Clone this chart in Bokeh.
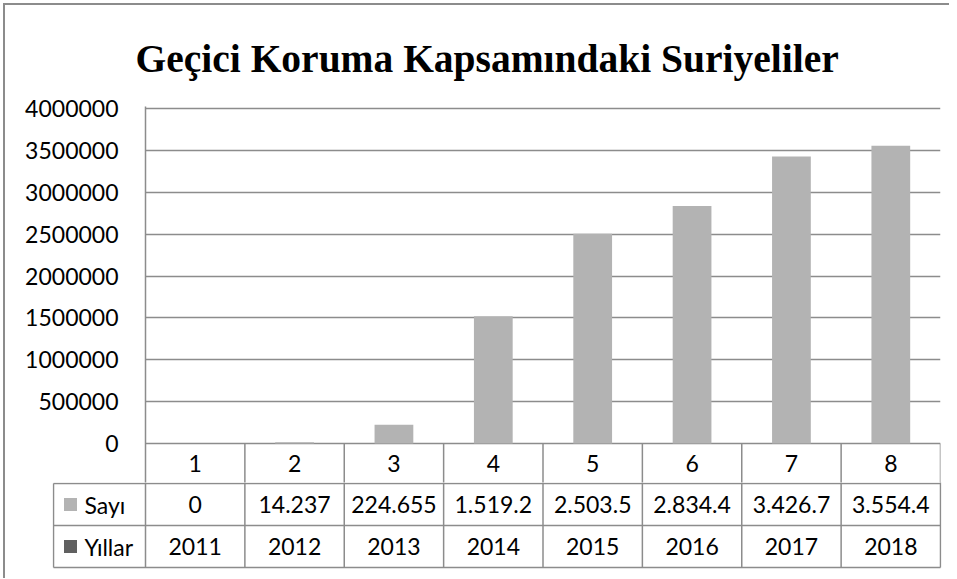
from bokeh.plotting import figure
from bokeh.layouts import column
from bokeh.models import Range1d, FixedTicker, BasicTickFormatter, ColumnDataSource
from bokeh.core.properties import value
from bokeh.embed import file_html
from bokeh.resources import INLINE

# ---------------- data ----------------
title_text = "Geçici Koruma Kapsamındaki Suriyeliler"
categories = ["1", "2", "3", "4", "5", "6", "7", "8"]
sayi_values = [0, 14237, 224655, 1519286, 2503549, 2834441, 3426786, 3554400]
sayi_labels = ["0", "14.237", "224.655", "1.519.2", "2.503.5", "2.834.4", "3.426.7", "3.554.4"]
year_labels = ["2011", "2012", "2013", "2014", "2015", "2016", "2017", "2018"]
series_names = ["Sayı", "Yıllar"]
y_ticks = [0, 500000, 1000000, 1500000, 2000000, 2500000, 3000000, 3500000, 4000000]

# ---------------- layout constants (page px) ----------------
O = 5                     # figure origin on page (margin 3 + border 2)
W = 944
FL, FR = 145, 940         # plot-area left/right
FT, FB = 106, 482         # frame top/bottom of chart figure
ZERO_Y, TOP_Y = 443, 108  # pixel of 0 and 4,000,000
GRID = "#8c8c8c"
BAR = "#b3b3b3"
DARK = "#606060"
FONT = "Lato"
FS = "23px"

n = len(categories)
xpos = [i + 1 for i in range(n)]
unit = (FR - FL) / n

# ---------------- chart figure (with first table row) ----------------
vpp = (y_ticks[-1] - y_ticks[0]) / (ZERO_Y - TOP_Y)   # value per pixel
ystart = -(FB - ZERO_Y) * vpp
pa = figure(width=W, height=FB - O,
            x_range=Range1d(0.5, n + 0.5),
            y_range=Range1d(ystart, y_ticks[-1] + (TOP_Y - FT) * vpp),
            output_backend="svg", toolbar_location=None,
            min_border_left=FL - O, min_border_right=O + W - FR,
            min_border_top=FT - O, min_border_bottom=0)
pa.frame_align = False
pa.title.text = title_text
pa.title.text_font = "Liberation Serif"
pa.title.text_font_style = "bold"
pa.title.text_font_size = "39.5px"
pa.title.align = "left"
pa.title.offset = -10
pa.title.standoff = 52
pa.title.text_color = "#000000"
pa.outline_line_color = None
pa.xaxis.visible = False
pa.xgrid.visible = False
pa.yaxis.ticker = FixedTicker(ticks=y_ticks)
pa.yaxis.formatter = BasicTickFormatter(use_scientific=False)
pa.yaxis.major_label_text_font = FONT
pa.yaxis.major_label_text_font_size = FS
pa.yaxis.major_label_text_color = "#000000"
pa.yaxis.major_tick_line_color = None
pa.yaxis.minor_tick_line_color = None
pa.yaxis.axis_line_color = GRID
pa.yaxis.axis_line_width = 1.5
pa.yaxis.major_label_standoff = 21
pa.ygrid.ticker = FixedTicker(ticks=y_ticks)
pa.ygrid.grid_line_color = GRID
pa.ygrid.grid_line_width = 1.5
pa.ygrid.grid_line_alpha = 1.0

src = ColumnDataSource(dict(x=xpos, top=sayi_values))
pa.vbar(x="x", top="top", bottom=0, width=0.39, source=src,
        fill_color=BAR, line_color=None)

txt = dict(text_font=value(FONT), text_font_size=FS, text_align="center",
           text_baseline="middle", text_color="#000000")
# first table row: category numbers
vx = [i + 0.5 for i in range(n + 1)]
pa.segment(x0=vx[1:], y0=[ystart] * n, x1=vx[1:], y1=[0] * n,
           line_color=GRID, line_width=1.5)
pa.text(x=xpos, y=[-(463 - ZERO_Y) * vpp] * n, text=categories, **txt)

# ---------------- remaining table rows ----------------
TL = 53                      # table left edge
TB_TOP, TB_BOT = FB, 569     # frame of table figure
ROW_TOP, ROW_BOT = 483, 567  # pixel of y=2 and y=0
rpx = (ROW_BOT - ROW_TOP) / 2.0
x_cell_left = 0.5 - (FL - TL) / unit
H_B = 578 - TB_TOP
pb = figure(width=W, height=H_B,
            x_range=Range1d(0.5 - (FL - TL + 1) / unit, n + 0.5 + 1 / unit),
            y_range=Range1d(-(TB_BOT - ROW_BOT) / rpx, 2 + (ROW_TOP - TB_TOP) / rpx),
            output_backend="svg", toolbar_location=None,
            min_border_left=TL - 1 - O, min_border_right=O + W - FR - 1,
            min_border_top=0, min_border_bottom=(TB_TOP + H_B) - TB_BOT)
pb.frame_align = False
pb.axis.visible = False
pb.grid.visible = False
pb.outline_line_color = None

hx0 = [x_cell_left] * 3
hx1 = [n + 0.5] * 3
hy = [2, 1, 0]
pb.segment(x0=hx0, y0=hy, x1=hx1, y1=hy, line_color=GRID, line_width=1.5)
pb.segment(x0=vx, y0=[0] * len(vx), x1=vx, y1=[2.2] * len(vx), line_color=GRID, line_width=1.5)
pb.segment(x0=[x_cell_left], y0=[0], x1=[x_cell_left], y1=[2], line_color=GRID, line_width=1.5)

pb.text(x=xpos, y=[1.5] * n, text=sayi_labels, **txt)
pb.text(x=xpos, y=[0.5] * n, text=year_labels, **txt)

# legend keys in table
key_x = x_cell_left + 17 / unit
pb.rect(x=[key_x, key_x], y=[1.5, 0.5], width=13, height=13,
        width_units="screen", height_units="screen",
        fill_color=[BAR, DARK], line_color=None)
pb.text(x=[x_cell_left + 31 / unit] * 2, y=[1.5, 0.5], text=series_names,
        text_font=value(FONT), text_font_size=FS, text_align="left",
        text_baseline="middle", text_color="#000000")

layout = column(pa, pb, spacing=0,
                styles={"border-top": "2px solid #8c8c8c", "border-left": "2px solid #8c8c8c",
                        "margin-left": "3px", "margin-top": "3px"})

with open("out.html", "w") as f:
    f.write(file_html(layout, INLINE))
